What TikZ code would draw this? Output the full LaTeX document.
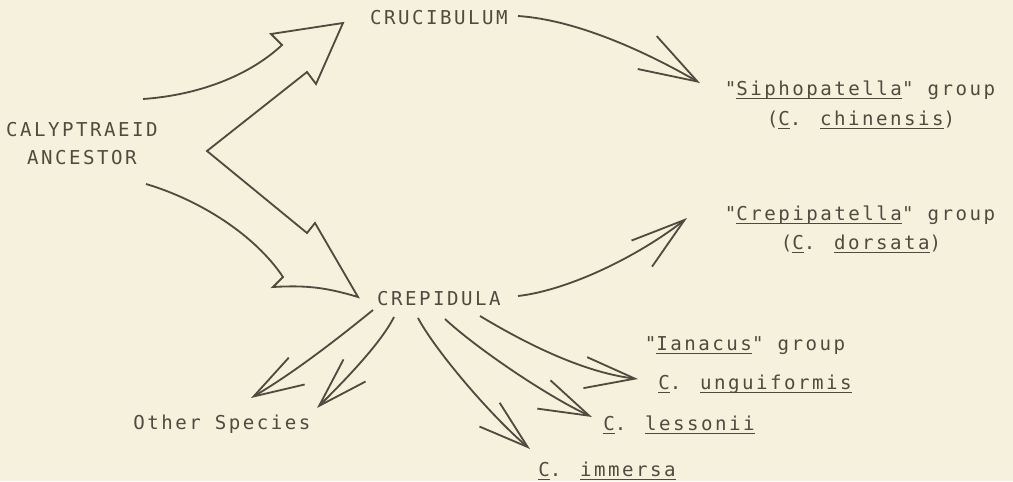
\documentclass[tikz,border=0pt]{standalone}
\usepackage{fontspec}
\newfontfamily\typer{DejaVu Sans Mono}[LetterSpace=13]
\usetikzlibrary{arrows.meta}
\definecolor{paper}{RGB}{246,241,221}
\definecolor{ink}{RGB}{82,74,64}
\newsavebox\ulbox
\newcommand{\ulin}[1]{\sbox\ulbox{#1}\rlap{\rule[-2.9pt]{\wd\ulbox}{0.9pt}}\usebox\ulbox}

\begin{document}
\begin{tikzpicture}[x=0.025cm,y=-0.025cm,>={Straight Barb[length=1.25cm,width=0.78cm]},
  lbl/.style={inner sep=0pt,anchor=base,text=ink,font=\typer\fontsize{13.6}{16}\selectfont},
  branch/.style={->,draw=ink,line width=1.3pt},
  hollow/.style={draw=ink,line width=1.3pt,line join=miter}]
\fill[paper] (0,0) rectangle (1013,481);
\useasboundingbox (0,0) rectangle (1013,481);
% labels
\node[lbl] (cruc) at (439,24) {CRUCIBULUM};
\node[lbl] (anc1) at (82,136) {CALYPTRAEID};
\node[lbl] (anc2) at (82,164) {ANCESTOR};
\node[lbl] (siph) at (860,95) {"\ulin{Siphopatella}" group};
\node[lbl] (chin) at (861,125) {(\ulin{C}. \ulin{chinensis})};
\node[lbl] (crpa) at (860,220) {"\ulin{Crepipatella}" group};
\node[lbl] (dors) at (861,249) {(\ulin{C}. \ulin{dorsata})};
\node[lbl] (crep) at (439,305) {CREPIDULA};
\node[lbl] (iana) at (745,350) {"\ulin{Ianacus}" group};
\node[lbl] (unqu) at (755,389) {\ulin{C}. \ulin{unguiformis}};
\node[lbl] (less) at (679,430) {\ulin{C}. \ulin{lessonii}};
\node[lbl] (imme) at (607,476) {\ulin{C}. \ulin{immersa}};
\node[lbl] (othr) at (222,429) {Other Species};
% split arrow out of the ancestor
\draw[hollow] (143,99) .. controls (200,95) and (250,75) .. (282,45) -- (271,34) -- (343,23)
  -- (316,84) -- (307,72) -- (207,151) -- (307,233) -- (315,223) -- (358,297)
  to[bend right=10] (273,287) -- (283,277) .. controls (255,235) and (200,200) .. (146,184);
% branches
\draw[branch,-{Straight Barb[length=1.45cm,width=0.95cm]}] ([shift={(79,-8)}]cruc.base)
  .. controls +(60,4) and +(-52,-30) .. ([shift={(-160,-12)}]siph.base);
\draw[branch,-{Straight Barb[length=1.36cm,width=0.83cm]}] ([shift={(79,-9)}]crep.base)
  .. controls +(52,-6) and +(-47,37) .. ([shift={(-173,-2)}]crpa.base);
\draw[branch] ([shift={(41,11)}]crep.base) .. controls +(40,24) and +(-58,-7) .. ([shift={(-117,-10)}]unqu.base);
\draw[branch] ([shift={(6,14)}]crep.base) .. controls +(30,28) and +(-47,-22) .. ([shift={(-87,-13)}]less.base);
\draw[branch] ([shift={(-21,13)}]crep.base) .. controls +(17,32) and +(-40,-34) .. ([shift={(-77,-27)}]imme.base);
\draw[branch] ([shift={(-66,5)}]crep.base) .. controls +(-43,35) and +(39,-23) .. ([shift={(29,-31)}]othr.base);
\draw[branch] ([shift={(-45,12)}]crep.base) .. controls +(-14,28) and +(23,-23) .. ([shift={(95,-21)}]othr.base);
\end{tikzpicture}
\end{document}
